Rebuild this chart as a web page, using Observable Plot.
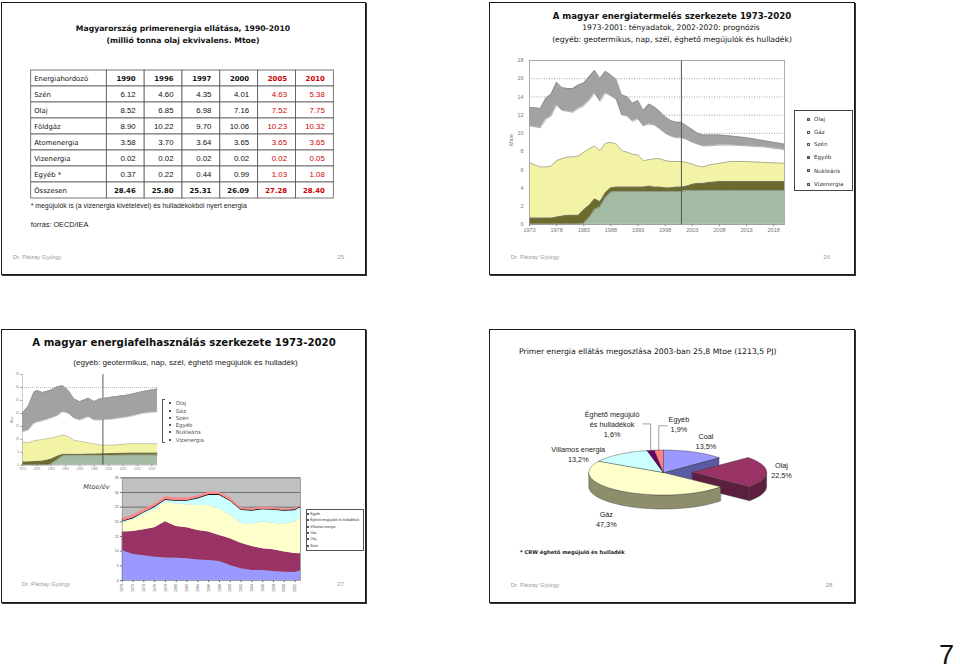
<!DOCTYPE html>
<html><head><meta charset="utf-8">
<script src="https://cdn.jsdelivr.net/npm/d3@7"></script>
<script src="https://cdn.jsdelivr.net/npm/@observablehq/plot@0.6"></script>
<style>
html,body{margin:0;padding:0;background:#fff;}
#page{position:relative;width:960px;height:670px;overflow:hidden;background:#fff;color:#111;}
.slide{position:absolute;box-sizing:border-box;border:1px solid #1a1a1a;box-shadow:1px 1px 0 #333;background:#fff;}
.t{position:absolute;white-space:nowrap;line-height:1;}
.sw{position:absolute;box-sizing:border-box;border:0.5px solid #555;}
</style></head><body><div id="page">
<div class="slide" style="left:1px;top:2px;width:365px;height:273px"></div>
<div class="slide" style="left:489px;top:2px;width:366px;height:273px"></div>
<div class="slide" style="left:1px;top:329px;width:365px;height:274px"></div>
<div class="slide" style="left:489px;top:329px;width:366px;height:274px"></div>
</div>
<script>
// ================= DATA =================
// Slide 25 – table
const tableYears = ["1990", "1996", "1997", "2000", "2005", "2010"];
const projectedYears = ["2005", "2010"];
const tableHeader = "Energiahordozó";
const tableRows = ["Szén", "Olaj", "Földgáz", "Atomenergia", "Vizenergia", "Egyéb *", "Összesen"];
const szenT = [6.12, 4.60, 4.35, 4.01, 4.63, 5.38];
const olajT = [8.52, 6.85, 6.98, 7.16, 7.52, 7.75];
const foldgazT = [8.90, 10.22, 9.70, 10.06, 10.23, 10.32];
const atomT = [3.58, 3.70, 3.64, 3.65, 3.65, 3.65];
const vizT = [0.02, 0.02, 0.02, 0.02, 0.02, 0.05];
const egyebT = [0.37, 0.22, 0.44, 0.99, 1.03, 1.08];
const osszesenT = [28.46, 25.80, 25.31, 26.09, 27.28, 28.40];

// Slide 26 – production structure 1973-2020 (Mtoe, layer amounts)
const yearsA = [1973,1974,1975,1976,1977,1978,1979,1980,1981,1982,1983,1984,1985,1986,1987,1988,1989,1990,1991,1992,1993,1994,1995,1996,1997,1998,1999,2000,2001,2002,2003,2004,2005,2006,2008,2010,2013,2016,2020];
const vizA = [0.02,0.02,0.02,0.02,0.02,0.02,0.02,0.02,0.02,0.02,0.02,0.02,0.02,0.02,0.02,0.02,0.02,0.02,0.02,0.02,0.02,0.02,0.02,0.02,0.02,0.02,0.02,0.02,0.02,0.02,0.02,0.02,0.02,0.02,0.02,0.02,0.02,0.02,0.02];
const nukA = [0,0,0,0,0,0,0,0,0,0,0.1,0.7,1.6,1.9,2.9,3.5,3.6,3.6,3.6,3.6,3.6,3.6,3.6,3.6,3.6,3.6,3.6,3.6,3.6,3.7,3.7,3.7,3.7,3.7,3.7,3.7,3.7,3.7,3.7];
const egyebA = [0.7,0.7,0.7,0.7,0.7,0.8,0.9,1.0,1.0,1.0,1.5,1.4,1.2,0.6,0.6,0.5,0.5,0.5,0.5,0.5,0.5,0.5,0.6,0.5,0.5,0.4,0.4,0.5,0.5,0.5,0.7,0.8,0.8,0.9,1.0,1.0,1.0,1.0,1.0];
const szenA = [6.1,5.8,5.6,5.6,5.7,6.2,6.3,6.4,6.4,6.5,6.3,6.2,5.8,5.6,5.4,5.0,4.7,4.0,3.8,3.6,3.5,2.9,2.9,3.1,3.1,3.0,2.9,2.8,2.8,2.6,2.2,1.9,1.8,1.9,2.0,2.2,2.2,2.1,2.0];
const gazA = [4.0,4.2,4.3,5.2,5.5,6.1,5.3,5.0,4.9,5.2,5.1,5.3,5.8,5.4,5.5,5.1,4.9,3.9,4.0,3.6,4.0,3.8,3.9,3.7,3.3,3.0,2.8,2.6,2.6,2.5,2.4,2.4,2.3,2.1,2.0,1.8,1.7,1.7,1.5];
const olajA = [2.0,2.1,2.1,2.3,2.4,2.5,2.5,2.5,2.6,2.6,2.5,2.6,2.5,2.5,2.4,2.3,2.2,2.2,2.1,2.0,2.0,1.7,2.2,2.0,1.9,1.8,1.7,1.7,1.7,1.5,1.4,1.2,1.2,1.2,1.1,1.0,0.9,0.7,0.6];
const splitYear = 2001;

// Slide 27 – inset 1: consumption structure 1973-2020
const yearsB = [1973,1975,1977,1978,1980,1982,1983,1985,1987,1988,1989,1991,1993,1996,1998,2000,2004,2010,2015,2020];
const vizB = [0.02,0.02,0.02,0.02,0.02,0.02,0.02,0.02,0.02,0.02,0.02,0.02,0.02,0.02,0.02,0.02,0.02,0.02,0.02,0.02];
const nukB = [0,0,0,0,0,0,0.3,1.9,3.4,3.6,3.6,3.6,3.6,3.6,3.6,3.6,3.7,3.8,3.8,3.8];
const egyebB = [1.2,1.3,1.4,1.5,1.6,2.1,2.1,1.5,0.8,0.6,0.6,0.6,0.6,0.7,0.7,0.8,0.8,0.9,0.9,0.9];
const szenB = [7.8,7.3,8.0,8.1,8.3,8.2,8.1,7.6,7.4,7.2,6.8,5.4,5.0,4.3,3.9,3.4,3.2,3.6,3.6,3.6];
const gazB = [3.9,4.9,6.7,7.0,7.2,7.5,7.7,8.0,9.0,8.9,9.0,8.5,8.2,10.1,9.2,9.6,10.0,10.4,11.7,12.3];
const olajB = [7.1,9.1,11.9,12.2,10.9,10.8,10.8,11.2,10.0,9.5,8.8,7.4,7.1,7.1,7.2,8.1,8.5,8.4,8.4,8.8];
const refLineB = [30];

// Slide 27 – inset 2: consumption by fuel (Mtoe/év)
const yearsC = [1970,1972,1974,1976,1978,1980,1982,1984,1986,1988,1990,1992,1994,1996,1998,2000,2002,2003];
const szenC = [10.2,8.9,8.4,7.9,7.7,7.6,7.4,7.0,6.8,6.5,5.1,4.0,3.4,3.4,3.1,2.8,2.7,3.2];
const olajC = [6.3,7.8,8.9,10.1,12.3,10.8,10.6,10.0,9.7,8.8,9.1,8.7,8.2,7.4,7.4,6.9,6.5,5.9];
const gazC = [3.0,4.0,5.2,6.1,6.7,7.7,7.8,8.6,9.1,9.1,8.0,6.8,7.4,9.1,9.0,9.4,10.8,12.4];
const villC = [0.4,0.3,0.5,0.7,0.6,0.9,1.2,2.2,3.4,4.6,4.8,4.4,4.6,4.2,4.4,4.5,3.8,3.3];
const eghC = [0.3,0.3,0.3,0.3,0.3,0.3,0.3,0.3,0.3,0.3,0.3,0.3,0.3,0.3,0.3,0.3,0.3,0.3];
const egyebC = [0.9,0.9,0.9,0.9,0.9,0.8,0.8,0.8,0.8,0.8,0.8,0.6,0.6,0.6,0.6,0.5,0.5,0.4];

// Slide 28 – pie, 2003
const pieNames = ["Coal", "Olaj", "Gáz", "Villamos energia", "Éghető megújuló\nés hulladékok", "Egyéb"];
const pieValues = [13.5, 22.5, 47.3, 13.2, 1.6, 1.9];
const pieExploded = "Olaj";

// ================= STYLE / LAYOUT =================
const comic = '"DejaVu Sans", sans-serif';
const arial = '"Liberation Sans", Arial, sans-serif';
const orderA = ["Vízenergia", "Nukleáris", "Egyéb", "Szén", "Gáz", "Olaj"];
const colorsA = ["#c4c4c4", "#a3bca3", "#6b6b2e", "#f3f3a6", "#ffffff", "#a2a2a2"];
const orderC = ["Szén", "Olaj", "Gáz", "Villamos energia", "Éghető megújulók és hulladékok", "Egyéb"];
const colorsC = ["#9999ff", "#993366", "#ffffcc", "#ccffff", "#111111", "#ff8585"];
const pieTop = ["#9999ff", "#993366", "#ffffcc", "#ccffff", "#660066", "#ff8080"];
const pieWall = ["#5b5ba3", "#5c1f3d", "#8e8e6c", "#7a9c9c", "#3d003d", "#a34d4d"];
const pieGeom = {cx: 173.7, cy: 143, rx: 74.4, ry: 22.5, depth: 14, explode: 0.39, labelK: 1.2};
const pieNudge = {"Coal": [6, -7], "Olaj": [0, -2], "Gáz": [-6, 24], "Villamos energia": [-32, 3], "Éghető megújuló\nés hulladékok": [-36, -22], "Egyéb": [21, -22]};

const page = document.getElementById("page");
function put(el, left, top) {
  el.style.position = "absolute"; el.style.left = left + "px"; el.style.top = top + "px";
  page.appendChild(el); return el;
}
function txt(s, x, y, css, anchor = "middle", rot = 0) {
  const d = document.createElement("div");
  d.className = "t"; d.textContent = s;
  d.style.cssText += `left:${x}px;top:${y}px;` + css;
  const tx = anchor === "middle" ? "-50%" : anchor === "start" ? "0" : "-100%";
  d.style.transform = `translate(${tx},-50%)` + (rot ? ` rotate(${rot}deg)` : "");
  page.appendChild(d); return d;
}
function swatch(x, y, size, color) {
  const s = document.createElement("div"); s.className = "sw";
  s.style.cssText += `left:${x - size/2}px;top:${y - size/2}px;width:${size}px;height:${size}px;background:${color};`;
  page.appendChild(s);
}
const tidy = (years, layers) => layers.flatMap(([layer, vals]) => vals.map((v, i) => ({year: years[i], layer, value: v})));

// ================= SLIDE 25 =================
txt("Magyarország primerenergia ellátása, 1990-2010", 183, 28, `font:bold 7.7px ${comic};`);
txt("(millió tonna olaj ekvivalens. Mtoe)", 183, 39.5, `font:bold 7.7px ${comic};`);
{
  const tableValues = [szenT, olajT, foldgazT, atomT, vizT, egyebT, osszesenT];
  const rowKeys = [tableHeader, ...tableRows];
  const cells = [{row: tableHeader, col: 0, text: tableHeader, kind: "head", proj: false}];
  tableYears.forEach((yr, j) => cells.push({row: tableHeader, col: j + 1, text: yr, kind: "head", proj: projectedYears.includes(yr)}));
  tableRows.forEach((name, i) => {
    const total = i === tableRows.length - 1;
    cells.push({row: name, col: 0, text: name, kind: total ? "head" : "label", proj: false});
    tableValues[i].forEach((v, j) => cells.push({row: name, col: j + 1, text: v.toFixed(2), kind: total ? "head" : "num", proj: projectedYears.includes(tableYears[j])}));
  });
  const x1 = d => d.col === 0 ? 0 : d.col + 1, x2 = d => d.col === 0 ? 2 : d.col + 2;
  const fillOf = d => d.proj ? "#d00000" : "#111";
  const table = Plot.plot({
    width: 304, height: 132, marginLeft: 0.7, marginRight: 0.7, marginTop: 1, marginBottom: 2,
    x: {domain: [0, 8], axis: null}, y: {domain: rowKeys, axis: null, padding: 0},
    color: {type: "identity"},
    style: {background: "none", overflow: "visible"},
    marks: [
      Plot.barX(cells, {x1, x2, y: "row", fill: "white", stroke: "#555", strokeWidth: 0.8}),
      Plot.text(cells.filter(d => d.col === 0), {x: x1, y: "row", text: "text", textAnchor: "start", dx: 3, fill: "#111",
        fontFamily: comic, fontSize: 6.9, fontWeight: d => d.kind === "head" ? "bold" : "normal"}),
      Plot.text(cells.filter(d => d.col > 0 && d.kind === "head"), {x: x2, y: "row", text: "text", textAnchor: "end", dx: -9, fill: fillOf,
        fontFamily: comic, fontSize: 6.9, fontWeight: "bold"}),
      Plot.text(cells.filter(d => d.col > 0 && d.kind === "num"), {x: x2, y: "row", text: "text", textAnchor: "end", dx: -9, fill: fillOf,
        fontFamily: arial, fontSize: 7.8})
    ]
  });
  put(table, 30, 68);
}
txt("* megújulók is (a vizenergia kivételével) és hulladékokból nyert energia", 30.7, 205, `font:6.9px ${arial};color:#222;`, "start");
txt("forrás: OECD/IEA", 30.7, 224, `font:7.3px ${arial};color:#222;`, "start");
txt("Dr. Pátzay György", 12.7, 257, `font:6px ${arial};color:#999;`, "start");
txt("25", 340.7, 257, `font:6px ${arial};color:#999;`);

// ================= SLIDE 26 =================
txt("A magyar energiatermelés szerkezete 1973-2020", 672, 15.5, `font:bold 8.6px ${comic};`);
txt("1973-2001: tényadatok, 2002-2020: prognózis", 671, 27, `font:7.6px ${comic};`);
txt("(egyéb: geotermikus, nap, szél, éghető megújulók és hulladék)", 672, 38.5, `font:7.6px ${comic};`);
{
  const tidyA = tidy(yearsA, [["Vízenergia", vizA], ["Nukleáris", nukA], ["Egyéb", egyebA], ["Szén", szenA], ["Gáz", gazA], ["Olaj", olajA]]);
  const chartA = Plot.plot({
    width: 300, height: 190, marginLeft: 40, marginRight: 5, marginTop: 10, marginBottom: 16,
    x: {domain: [1973, 2020], ticks: d3.range(1973, 2019, 5), tickFormat: d => String(d), tickSize: 2, tickPadding: 2, label: null},
    y: {domain: [0, 18], ticks: d3.range(0, 19, 2), tickSize: 0, tickPadding: 6, label: null},
    color: {domain: orderA, range: colorsA},
    style: {background: "none", fontFamily: arial, fontSize: "5.5px", color: "#777", overflow: "visible"},
    marks: [
      Plot.ruleY(d3.range(2, 19, 2), {stroke: "#666", strokeDasharray: "1,1.5", strokeWidth: 0.6}),
      Plot.areaY(tidyA, {x: "year", y: "value", z: "layer", fill: "layer", order: orderA}),
      Plot.lineY(tidyA, Plot.stackY2({x: "year", y: "value", z: "layer", order: orderA, stroke: "#808080", strokeWidth: 0.6})),
      Plot.ruleX([splitYear], {stroke: "#555", strokeWidth: 1}),
      Plot.frame({stroke: "#999", strokeWidth: 0.8})
    ]
  });
  put(chartA, 489, 50);
}
txt("Mtoe", 510.7, 140, `font:5.5px ${arial};color:#777;`, "middle", -90);
{
  const box = document.createElement("div");
  box.style.cssText = "border:1px solid #444;box-sizing:border-box;width:59px;height:81px;background:#fff;";
  put(box, 794, 110);
  const rows = [119.3, 132.3, 144.3, 157.3, 170.7, 184.3];
  [...orderA].reverse().forEach((name, i) => {
    swatch(808.7, rows[i], 3.4, colorsA[orderA.indexOf(name)]);
    txt(name, 814, rows[i], `font:5.6px ${comic};color:#333;`, "start");
  });
}
txt("Dr. Pátzay György", 510.7, 257, `font:6px ${arial};color:#999;`, "start");
txt("26", 826.7, 257, `font:6px ${arial};color:#999;`);

// ================= SLIDE 27 =================
txt("A magyar energiafelhasználás szerkezete 1973-2020", 184, 341.7, `font:bold 10.2px ${comic};`);
txt("(egyéb: geotermikus, nap, szél, éghető megújulók és hulladék)", 185.5, 362, `font:8.1px ${arial};color:#222;`);
{
  const tidyB = tidy(yearsB, [["Vízenergia", vizB], ["Nukleáris", nukB], ["Egyéb", egyebB], ["Szén", szenB], ["Gáz", gazB], ["Olaj", olajB]]);
  const chartB = Plot.plot({
    width: 160, height: 104, marginLeft: 20, marginRight: 5, marginTop: 6, marginBottom: 7.3,
    x: {domain: [1973, 2020], ticks: d3.range(1973, 2019, 5), tickFormat: d => String(d), tickSize: 1.5, tickPadding: 1, label: null},
    y: {domain: [0, 35], ticks: d3.range(0, 36, 5), tickSize: 1.5, tickPadding: 2, label: null},
    color: {domain: orderA, range: colorsA},
    style: {background: "none", fontFamily: arial, fontSize: "3px", color: "#888", overflow: "visible"},
    marks: [
      Plot.ruleY(refLineB, {stroke: "#777", strokeDasharray: "1,1", strokeWidth: 0.5}),
      Plot.areaY(tidyB, {x: "year", y: "value", z: "layer", fill: "layer", order: orderA}),
      Plot.ruleX([splitYear], {stroke: "#333", strokeWidth: 0.8}),
      Plot.areaY(tidyB, Plot.filter(d => d.layer === "Olaj", Plot.stackY({x: "year", y: "value", z: "layer", fill: "layer", order: orderA}))),
      Plot.lineY(tidyB, Plot.stackY2({x: "year", y: "value", z: "layer", order: orderA, stroke: "#888", strokeWidth: 0.4})),
      Plot.ruleX([1973], {stroke: "#999", strokeWidth: 0.5})
    ]
  });
  put(chartB, 2, 368);
}
txt("Mtoe", 12, 420, `font:3px ${arial};color:#888;`, "middle", -90);
{
  const br = document.createElement("div");
  br.style.cssText = "border:0.8px solid #555;border-right:none;box-sizing:border-box;width:3px;height:44px;";
  put(br, 162.3, 399);
  const rows = [403.3, 410.7, 418, 425, 432.3, 439.7];
  [...orderA].reverse().forEach((name, i) => {
    swatch(170, rows[i], 2.2, colorsA[orderA.indexOf(name)]);
    txt(name, 175.7, rows[i], `font:5.4px ${comic};color:#555;`, "start");
  });
}
{
  const tidyC = tidy(yearsC, [["Szén", szenC], ["Olaj", olajC], ["Gáz", gazC], ["Villamos energia", villC], ["Éghető megújulók és hulladékok", eghC], ["Egyéb", egyebC]]);
  const chartC = Plot.plot({
    width: 205, height: 130, marginLeft: 21.7, marginRight: 5, marginTop: 7.3, marginBottom: 20,
    x: {domain: [1970, 2003], ticks: d3.range(1970, 2003, 2), tickFormat: d => String(d), tickRotate: -90, tickSize: 2, tickPadding: 1.5, label: null},
    y: {domain: [0, 35], ticks: d3.range(0, 36, 5), tickSize: 1.5, tickPadding: 2, label: null},
    color: {domain: orderC, range: colorsC},
    style: {background: "none", fontFamily: arial, fontSize: "3.6px", color: "#555", overflow: "visible"},
    marks: [
      Plot.frame({fill: "#c0c0c0"}),
      Plot.ruleY(d3.range(5, 36, 5), {stroke: "#222", strokeWidth: 0.5}),
      Plot.areaY(tidyC, {x: "year", y: "value", z: "layer", fill: "layer", order: orderC}),
      Plot.frame({stroke: "#777", strokeWidth: 0.6})
    ]
  });
  put(chartC, 100, 470);
}
txt("Mtoe/év", 96.5, 487, `font:italic 6.6px ${comic};color:#333;`);
{
  const box = document.createElement("div");
  box.style.cssText = "border:0.8px solid #555;box-sizing:border-box;width:58px;height:42px;background:#fff;";
  put(box, 306, 509);
  const rows = [514, 520.3, 526.7, 533.3, 539.3, 546];
  [...orderC].reverse().forEach((name, i) => {
    swatch(308.3, rows[i], 2, colorsC[orderC.indexOf(name)]);
    txt(name, 310.3, rows[i], `font:3.4px ${arial};color:#333;`, "start");
  });
}
txt("Dr. Pátzay György", 21.7, 584, `font:6px ${arial};color:#999;`, "start");
txt("27", 340.7, 584, `font:6px ${arial};color:#999;`);

// ================= SLIDE 28 =================
txt("Primer energia ellátás megoszlása 2003-ban 25,8 Mtoe (1213,5 PJ)", 519, 350.7, `font:7.7px ${comic};`, "start");
{
  const G = pieGeom, D = G.depth / G.ry, step = Math.PI / 90;
  const arcs = d3.pie().sort(null).value(d => d)(pieValues);
  const arcPts = (a0, a1, ox, oy, dy) => {
    const n = Math.max(2, Math.ceil((a1 - a0) / step) + 1);
    return d3.range(n).map(k => { const a = a0 + (a1 - a0) * k / (n - 1); return [ox + Math.sin(a), oy - Math.cos(a) + dy]; });
  };
  const walls = [], tops = [], labels = [], leaders = [];
  arcs.forEach((arc, i) => {
    const name = pieNames[i], s = arc.startAngle, e = arc.endAngle, m = (s + e) / 2;
    const ex = name === pieExploded ? G.explode : 0;
    const ox = ex * Math.sin(m), oy = -ex * Math.cos(m);
    const w0 = Math.max(s, Math.PI / 2), w1 = Math.min(e, 3 * Math.PI / 2);
    if (w1 > w0) walls.push({id: i + "w", fill: pieWall[i], pts: [...arcPts(w0, w1, ox, oy, 0), ...arcPts(w0, w1, ox, oy, D).reverse()]});
    if (Math.sin(e) > 1e-6) { const p = [ox + Math.sin(e), oy - Math.cos(e)]; walls.push({id: i + "e", fill: pieWall[i], pts: [[ox, oy], p, [p[0], p[1] + D], [ox, oy + D]]}); }
    if (Math.sin(s) < -1e-6) { const p = [ox + Math.sin(s), oy - Math.cos(s)]; walls.push({id: i + "s", fill: pieWall[i], pts: [[ox, oy], p, [p[0], p[1] + D], [ox, oy + D]]}); }
    tops.push({id: i + "t", fill: pieTop[i], pts: [[ox, oy], ...arcPts(s, e, ox, oy, 0)]});
    const nd = pieNudge[name] || [0, 0];
    const lx = ox + G.labelK * Math.sin(m) + nd[0] / G.rx, ly = oy - G.labelK * Math.cos(m) + nd[1] / G.ry;
    const pct = pieValues[i].toFixed(1).replace(".", ",") + "%";
    labels.push({x: lx, y: ly, text: name + "\n" + pct});
    if (pieValues[i] < 3) {
      const rx0 = ox + Math.sin(m), ry0 = oy - Math.cos(m);
      const longest = d3.max(name.split("\n"), s => s.length);
      const half = (longest * 0.53 * 7.3 / 2 + 2) / G.rx;
      const endX = rx0 > lx ? lx + half : lx - half;
      const lineY = ly + (name.includes("\n") ? 0 : 0.1);
      leaders.push({id: i, x: rx0, y: ry0}, {id: i, x: rx0, y: lineY}, {id: i, x: endX, y: lineY});
    }
  });
  const flat = polys => polys.flatMap(p => p.pts.map(([x, y]) => ({id: p.id, fill: p.fill, x, y})));
  const pie = Plot.plot({
    width: 366, height: 274, margin: 0,
    x: {domain: [-1, 1], range: [G.cx - G.rx, G.cx + G.rx], axis: null},
    y: {domain: [-1, 1], range: [G.cy - G.ry, G.cy + G.ry], axis: null},
    color: {type: "identity"},
    style: {background: "none", overflow: "visible"},
    marks: [
      Plot.line(flat(walls), {x: "x", y: "y", z: "id", fill: "fill", stroke: "#333", strokeWidth: 0.4, curve: "linear-closed"}),
      Plot.line(flat(tops), {x: "x", y: "y", z: "id", fill: "fill", stroke: "#333", strokeWidth: 0.4, curve: "linear-closed"}),
      Plot.line(leaders, {x: "x", y: "y", z: "id", stroke: "#444", strokeWidth: 0.5}),
      Plot.text(labels, {x: "x", y: "y", text: "text", fontFamily: arial, fontSize: 7.3, lineHeight: 1.4, fill: "#222"})
    ]
  });
  put(pie, 489, 329);
}
txt("* CRW éghető megújuló és hulladék", 520, 552, `font:bold 5.2px ${comic};color:#222;`, "start");
txt("Dr. Pátzay György", 510.7, 585, `font:6px ${arial};color:#999;`, "start");
txt("28", 829, 585, `font:6px ${arial};color:#999;`);

txt("7", 954, 655, `font:27px ${arial};color:#111;`, "end");
</script></body></html>
